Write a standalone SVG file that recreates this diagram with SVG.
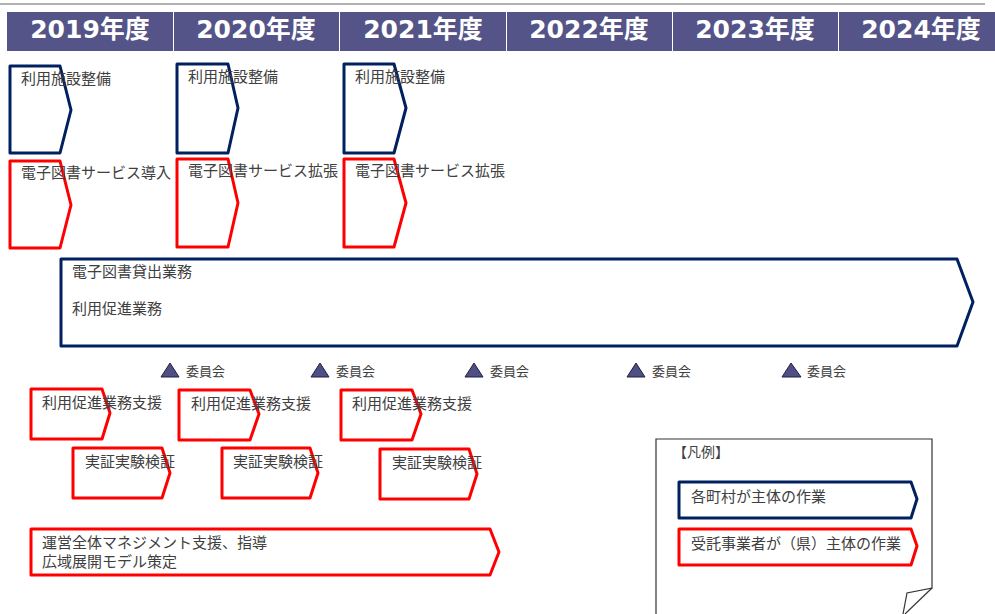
<svg xmlns="http://www.w3.org/2000/svg" width="995" height="614" viewBox="0 0 995 614">
<style>
.hdr{fill:#545488;}
.ht{font-family:"DejaVu Sans","Noto Sans CJK JP",sans-serif;font-weight:bold;font-size:25px;fill:#ffffff;text-anchor:middle;}
.blue{fill:none;stroke:#002060;stroke-width:3;stroke-linejoin:round;}
.red{fill:none;stroke:#ff0000;stroke-width:3;stroke-linejoin:round;}
.t{font-family:"Noto Sans CJK JP","Noto Sans",sans-serif;font-size:15px;fill:#404040;}
.ts{font-family:"Noto Sans CJK JP","Noto Sans",sans-serif;font-size:13px;fill:#404040;}
.tri{fill:#4f4f85;stroke:#1f1f3f;stroke-width:1;}
</style>
<rect width="995" height="614" fill="#ffffff"/>
<line x1="0" y1="4" x2="985" y2="4" stroke="#999999" stroke-width="1.5"/>
<g id="header">
<rect class="hdr" x="7" y="12" width="166" height="39"/>
<rect class="hdr" x="174" y="12" width="165" height="39"/>
<rect class="hdr" x="340" y="12" width="166" height="39"/>
<rect class="hdr" x="507" y="12" width="165" height="39"/>
<rect class="hdr" x="673" y="12" width="165" height="39"/>
<rect class="hdr" x="839" y="12" width="156" height="39"/>
<text class="ht" x="90" y="38">2019年度</text>
<text class="ht" x="256" y="38">2020年度</text>
<text class="ht" x="423" y="38">2021年度</text>
<text class="ht" x="589" y="38">2022年度</text>
<text class="ht" x="755" y="38">2023年度</text>
<text class="ht" x="921" y="38">2024年度</text>
</g>
<g id="connectors"></g>
<g id="n-facility-2019"><polygon class="blue" points="10,66 60,66 71,110 60,153 10,153"/><text class="t" x="21" y="84">利用施設整備</text></g>
<g id="n-facility-2020"><polygon class="blue" points="177,64 228,64 238,108 228,153 177,153"/><text class="t" x="188" y="82">利用施設整備</text></g>
<g id="n-facility-2021"><polygon class="blue" points="344,64 394,64 406,108 394,153 344,153"/><text class="t" x="355" y="82">利用施設整備</text></g>
<g id="n-ebook-2019"><polygon class="red" points="10,161 60,161 71,205 60,248 10,248"/><text class="t" x="21" y="178">電子図書サービス導入</text></g>
<g id="n-ebook-2020"><polygon class="red" points="177,159 228,159 238,203 228,247 177,247"/><text class="t" x="188" y="176">電子図書サービス拡張</text></g>
<g id="n-ebook-2021"><polygon class="red" points="344,159 394,159 406,203 394,247 344,247"/><text class="t" x="355" y="176">電子図書サービス拡張</text></g>
<g id="n-lending"><polygon class="blue" points="61,259 957,259 973,302 957,346 61,346"/><text class="t" x="72" y="277">電子図書貸出業務</text><text class="t" x="72" y="314">利用促進業務</text></g>
<g id="n-committee-1"><polygon class="tri" points="161,377 170,363 179,377"/><text class="ts" x="186" y="376">委員会</text></g>
<g id="n-committee-2"><polygon class="tri" points="311,377 320,363 329,377"/><text class="ts" x="336" y="376">委員会</text></g>
<g id="n-committee-3"><polygon class="tri" points="465,377 474,363 483,377"/><text class="ts" x="490" y="376">委員会</text></g>
<g id="n-committee-4"><polygon class="tri" points="627,377 636,363 645,377"/><text class="ts" x="652" y="376">委員会</text></g>
<g id="n-committee-5"><polygon class="tri" points="782,377 791,363 801,377"/><text class="ts" x="807" y="376">委員会</text></g>
<g id="n-support-2019"><polygon class="red" points="31,389 102,389 110,413 102,439 31,439"/><text class="t" x="42" y="408">利用促進業務支援</text></g>
<g id="n-support-2020"><polygon class="red" points="179,390 250,390 259,414 250,440 179,440"/><text class="t" x="191" y="409">利用促進業務支援</text></g>
<g id="n-support-2021"><polygon class="red" points="341,390 412,390 421,414 412,440 341,440"/><text class="t" x="352" y="409">利用促進業務支援</text></g>
<g id="n-test-1"><polygon class="red" points="73,448 162,448 170,473 162,498 73,498"/><text class="t" x="85" y="467">実証実験検証</text></g>
<g id="n-test-2"><polygon class="red" points="222,448 310,448 318,473 310,498 222,498"/><text class="t" x="233" y="467">実証実験検証</text></g>
<g id="n-test-3"><polygon class="red" points="380,449 469,449 477,474 469,499 380,499"/><text class="t" x="392" y="468">実証実験検証</text></g>
<g id="n-management"><polygon class="red" points="31,529 490,529 499,552 490,575 31,575"/><text class="t" x="42" y="548">運営全体マネジメント支援、指導</text><text class="t" x="42" y="567">広域展開モデル策定</text></g>
<g id="legend">
<path d="M656,614 V439 H932 V588 L907,593 L903,614" fill="#ffffff" stroke="#333333" stroke-width="1.2"/>
<path d="M932,588 L905,614" fill="none" stroke="#333333" stroke-width="1.2"/>
<text class="t" x="673" y="457" style="font-size:14px">【凡例】</text>
<polygon class="blue" points="679,482 911,482 917,499 911,518 679,518"/><text class="t" x="691" y="502">各町村が主体の作業</text>
<polygon class="red" points="679,529 911,529 917,546 911,565 679,565"/><text class="t" x="691" y="549">受託事業者が（県）主体の作業</text>
</g>
</svg>
